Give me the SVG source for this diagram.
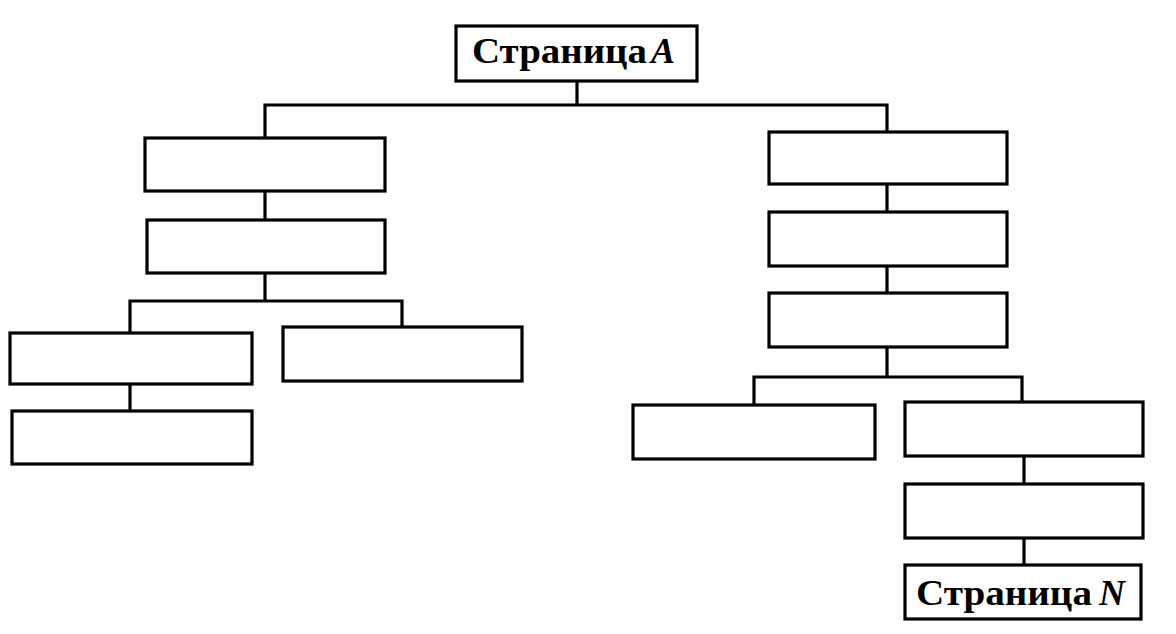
<svg xmlns="http://www.w3.org/2000/svg" width="1176" height="634" viewBox="0 0 1176 634">
<style>
.box{fill:#fff;stroke:#000;stroke-width:3.2}
.ln{fill:none;stroke:#000;stroke-width:3.2;stroke-linejoin:miter;stroke-linecap:square}
.t{font-family:"Liberation Serif","Times New Roman",serif;font-size:36px;font-weight:bold;fill:#000}
.i{font-style:italic}
</style>
<rect width="1176" height="634" fill="#fff"/>
<g id="connectors">
<path class="ln" d="M577,81 V105 M265,105 H887 M265,105 V138 M887,105 V132"/>
<path class="ln" d="M265,191 V220"/>
<path class="ln" d="M265,273 V301 M130,301 H402 M130,301 V333 M402,301 V327"/>
<path class="ln" d="M130,384 V411"/>
<path class="ln" d="M887,184 V212 M887,266 V293"/>
<path class="ln" d="M887,347 V377 M754,377 H1022 M754,377 V405 M1022,377 V402"/>
<path class="ln" d="M1024,456 V484 M1024,538 V565"/>
</g>
<g id="pageA">
<rect class="box" x="456" y="26" width="241" height="55"/>
<text class="t" y="63"><tspan x="472" textLength="175" lengthAdjust="spacingAndGlyphs">Страница</tspan><tspan class="i" x="651">A</tspan></text>
</g>
<g id="L1"><rect class="box" x="145" y="138" width="240" height="53"/></g>
<g id="L2"><rect class="box" x="147" y="220" width="238" height="53"/></g>
<g id="L3"><rect class="box" x="10" y="333" width="242" height="51"/></g>
<g id="L4"><rect class="box" x="283" y="327" width="239" height="54"/></g>
<g id="L5"><rect class="box" x="12" y="411" width="240" height="53"/></g>
<g id="R1"><rect class="box" x="769" y="132" width="238" height="52"/></g>
<g id="R2"><rect class="box" x="769" y="212" width="238" height="54"/></g>
<g id="R3"><rect class="box" x="769" y="293" width="238" height="54"/></g>
<g id="R4"><rect class="box" x="633" y="405" width="242" height="54"/></g>
<g id="R5"><rect class="box" x="905" y="402" width="238" height="54"/></g>
<g id="R6"><rect class="box" x="905" y="484" width="238" height="54"/></g>
<g id="pageN">
<rect class="box" x="905" y="565" width="236" height="54"/>
<text class="t" y="605"><tspan x="916" textLength="176" lengthAdjust="spacingAndGlyphs">Страница</tspan><tspan class="i" x="1099">N</tspan></text>
</g>
</svg>
